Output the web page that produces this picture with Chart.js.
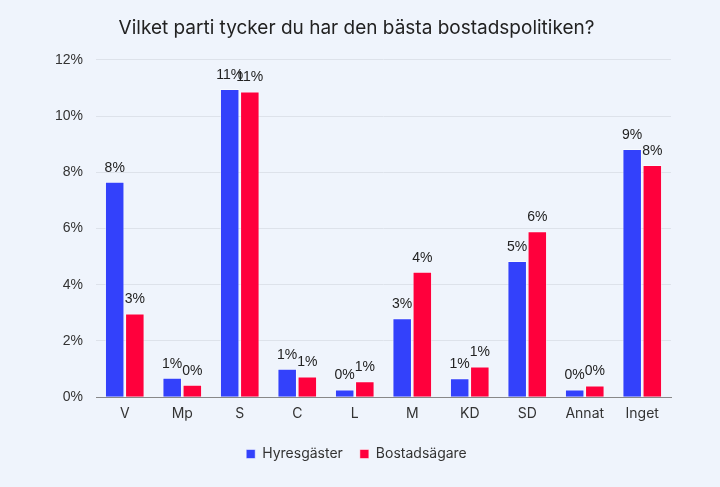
<!DOCTYPE html>
<html>
<head>
<meta charset="utf-8">
<script src="https://cdn.jsdelivr.net/npm/chart.js@4"></script>
<style>
  html, body { margin: 0; padding: 0; background: #eff4fc; }
  #wrap { width: 720px; height: 487px; }
</style>
</head>
<body>
<div id="wrap"><canvas id="grafico"></canvas></div>
<script>
const partier = ['V', 'Mp', 'S', 'C', 'L', 'M', 'KD', 'SD', 'Annat', 'Inget'];
const hyresgaster = [7.66, 0.69, 10.96, 1.01, 0.27, 2.81, 0.67, 4.84, 0.27, 8.83];
const bostadsagare = [2.98, 0.44, 10.87, 0.74, 0.57, 4.46, 1.09, 5.90, 0.42, 8.26];

// etiketter ovanför staplarna
const stapelEtiketter = {
  id: 'stapelEtiketter',
  afterDatasetsDraw(chart) {
    const ctx = chart.ctx;
    ctx.save();
    ctx.font = '14px "Liberation Sans", Arial, sans-serif';
    ctx.fillStyle = '#222';
    ctx.textAlign = 'center';
    ctx.textBaseline = 'bottom';
    chart.data.datasets.forEach((ds, i) => {
      chart.getDatasetMeta(i).data.forEach((bar, j) => {
        ctx.fillText(Math.round(ds.data[j]) + '%', bar.x, bar.y - 7);
      });
    });
    ctx.restore();
  }
};

const ctx = document.getElementById('grafico').getContext('2d');
const grafico = new Chart(ctx, {
  type: 'bar',
  data: {
    labels: partier,
    datasets: [
      {
        label: 'Hyresgäster',
        data: hyresgaster,
        backgroundColor: '#3341fb',
        borderColor: 'rgba(255,255,255,0.5)',
        borderWidth: 1,
      },
      {
        label: 'Bostadsägare',
        data: bostadsagare,
        backgroundColor: '#ff003c',
        borderColor: 'rgba(255,255,255,0.5)',
        borderWidth: 1,
      },
    ],
  },
  options: {
    responsive: true,
    maintainAspectRatio: false,
    animation: false,
    datasets: {
      bar: { categoryPercentage: 0.7, barPercentage: 0.97 },
    },
    layout: { padding: { left: 42, right: 49, top: 10, bottom: 16 } },
    scales: {
      x: {
        grid: { display: false, drawTicks: false },
        border: { color: '#888' },
        ticks: {
          color: '#333',
          font: { family: 'Inter', size: 14 },
          padding: 8,
        },
      },
      y: {
        min: 0,
        max: 12,
        ticks: {
          stepSize: 2,
          color: '#333',
          padding: 13,
          font: { family: '"Liberation Sans", Arial', size: 14 },
          callback: (v) => v + '%',
        },
        grid: { color: '#dde2ea', drawTicks: false },
        border: { display: false },
      },
    },
    plugins: {
      title: {
        display: true,
        text: 'Vilket parti tycker du har den bästa bostadspolitiken?',
        color: '#222',
        font: { family: 'Inter', size: 19, weight: 'normal' },
        padding: { top: 7, bottom: 20 },
      },
      legend: {
        position: 'bottom',
        labels: {
          color: '#333',
          boxWidth: 9,
          boxHeight: 9,
          padding: 17,
          font: { family: 'Inter', size: 14 },
        },
      },
      tooltip: { enabled: false },
    },
  },
  plugins: [stapelEtiketter],
});
</script>
</body>
</html>
